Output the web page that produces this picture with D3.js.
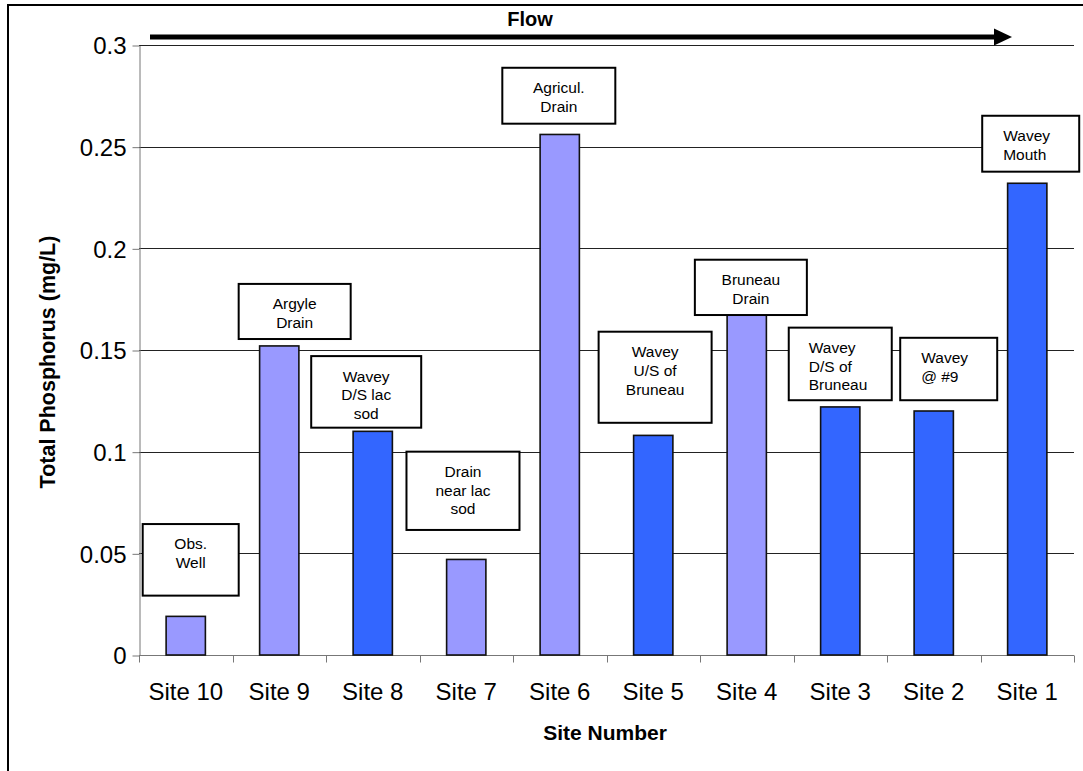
<!DOCTYPE html>
<html><head><meta charset="utf-8">
<script src="https://cdn.jsdelivr.net/npm/d3@7"></script>
<style>body{margin:0;background:#fff}svg{display:block}</style>
</head><body><div id="chart"></div>
<script>
const sites = ["Site 10","Site 9","Site 8","Site 7","Site 6","Site 5","Site 4","Site 3","Site 2","Site 1"];
const phosphorus = [0.019,0.152,0.110,0.047,0.256,0.108,0.170,0.122,0.120,0.232];
const siteType = ["drain","drain","river","drain","drain","river","drain","river","river","river"];
const yTicks = [0,0.05,0.1,0.15,0.2,0.25,0.3];
const yTickLabels = ["0","0.05","0.1","0.15","0.2","0.25","0.3"];
const labelLines = [["Obs.","Well"],["Argyle","Drain"],["Wavey","D/S lac","sod"],["Drain","near lac","sod"],["Agricul.","Drain"],["Wavey","U/S of","Bruneau"],["Bruneau","Drain"],["Wavey","D/S of","Bruneau"],["Wavey","@ #9"],["Wavey","Mouth"]];
// annotation boxes: [bottom value, top value, centre offset in bands]
const labelBox = [[0.0292,0.0644,0.053],[0.1554,0.1825,0.165],[0.1118,0.147,-0.07],[0.0615,0.100,-0.035],[0.2613,0.2888,-0.01],[0.1142,0.159,0.02],[0.1672,0.1944,0.044],[0.1253,0.161,0.0],[0.1253,0.156,0.16],[0.2377,0.2652,0.037]];
const labelAlign = ["middle","middle","middle","middle","middle","middle","middle","start","start","start"];
const colors = {drain:"#9999FF", river:"#3366FF"};

const W=1083,H=771;
const svg=d3.select("#chart").append("svg").attr("width",W).attr("height",H);
const font="Arial, 'Liberation Sans', sans-serif";
svg.append("rect").attr("x",8).attr("y",5).attr("width",1300).attr("height",1000)
  .attr("fill","none").attr("stroke","#000").attr("stroke-width",2);

const pL=139,pR=1074,pT=45,pB=655;
const x=d3.scaleBand().domain(sites).range([pL,pR]).paddingInner(0).paddingOuter(0);
const y=d3.scaleLinear().domain([0,0.3]).range([pB,pT]);
const bw=x.bandwidth();

// gridlines
svg.append("g").selectAll("line").data(yTicks.slice(1)).join("line")
  .attr("x1",pL).attr("x2",pR).attr("y1",d=>Math.round(y(d))+0.5).attr("y2",d=>Math.round(y(d))+0.5)
  .attr("stroke","#222").attr("stroke-width",1);

// y axis
const yAxis=d3.axisLeft(y).tickValues(yTicks).tickFormat((d,i)=>yTickLabels[i]).tickSize(7).tickSizeOuter(0);
const gy=svg.append("g").attr("transform",`translate(${pL+0.5},0.5)`).call(yAxis);
gy.select(".domain").attr("stroke","#777");
gy.selectAll(".tick line").attr("stroke","#777");
gy.selectAll(".tick text").attr("font-family",font).attr("font-size",24).attr("fill","#000").attr("x",-13).attr("dy","0.34em");

// x axis with ticks at band edges
const gx=svg.append("g").attr("transform",`translate(0,${pB+0.5})`);
gx.append("line").attr("x1",pL).attr("x2",pR).attr("stroke","#777");
const edges=sites.map(s=>x(s)).concat([pR]);
gx.selectAll("line.t").data(edges).join("line").attr("class","t")
  .attr("x1",d=>Math.round(d)+0.5).attr("x2",d=>Math.round(d)+0.5).attr("y1",0).attr("y2",7).attr("stroke","#777");
gx.selectAll("text").data(sites).join("text")
  .attr("x",d=>x(d)+bw/2).attr("y",44).attr("text-anchor","middle")
  .attr("font-family",font).attr("font-size",24).text(d=>d);

// bars
svg.append("g").selectAll("rect").data(sites).join("rect")
  .attr("x",(d,i)=>x(d)+bw*0.29).attr("width",bw*0.42)
  .attr("y",(d,i)=>y(phosphorus[i])).attr("height",(d,i)=>y(0)-y(phosphorus[i]))
  .attr("fill",(d,i)=>colors[siteType[i]]).attr("stroke","#111").attr("stroke-width",1.6);

// annotation boxes
const boxW=[96,112,110,113,113,113,112,103,97,97];
const ann=svg.append("g");
sites.forEach((s,i)=>{
  const [b0,b1,off]=labelBox[i];
  const cx=x(s)+bw/2+off*bw;
  const w=boxW[i];
  const yb=y(b0), yt=y(b1);
  ann.append("rect").attr("x",cx-w/2).attr("y",yt).attr("width",w).attr("height",yb-yt)
    .attr("fill","#fff").attr("stroke","#000").attr("stroke-width",2);
  const lines=labelLines[i];
  const lh=18.7;
  const firstY=yt+20;
  const tx = labelAlign[i]==="middle"? cx : cx-w/2+(i===7?20:21);
  const t=ann.append("text").attr("font-family",font).attr("font-size",15.5).attr("text-anchor",labelAlign[i]);
  lines.forEach((l,k)=>{
    t.append("tspan").attr("x",tx).attr("y",firstY+k*lh).attr("dy","0.35em").text(l);
  });
});

// Flow arrow
const arrowY=37;
svg.append("line").attr("x1",150).attr("x2",996).attr("y1",arrowY).attr("y2",arrowY)
  .attr("stroke","#000").attr("stroke-width",5);
svg.append("path").attr("d",`M994,${arrowY-8.5}L1012,${arrowY}L994,${arrowY+8.5}Z`).attr("fill","#000");
svg.append("text").attr("x",530).attr("y",26).attr("text-anchor","middle")
  .attr("font-family",font).attr("font-size",20).attr("font-weight","bold").text("Flow");

// axis titles
svg.append("text").attr("transform",`translate(55,362) rotate(-90)`).attr("text-anchor","middle")
  .attr("font-family",font).attr("font-size",21.5).attr("font-weight","bold").text("Total Phosphorus (mg/L)");
svg.append("text").attr("x",605).attr("y",740).attr("text-anchor","middle")
  .attr("font-family",font).attr("font-size",21).attr("font-weight","bold").text("Site Number");
</script></body></html>
